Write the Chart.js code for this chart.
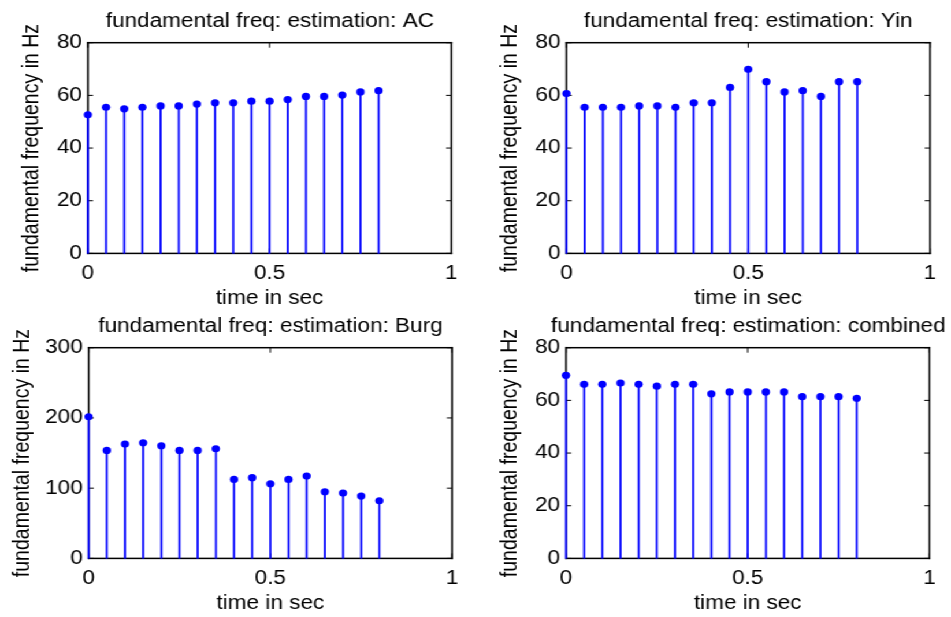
<!DOCTYPE html>
<html>
<head>
<meta charset="utf-8">
<script src="https://cdn.jsdelivr.net/npm/chart.js@4.4.1/dist/chart.umd.min.js"></script>
<style>
html,body{margin:0;padding:0;background:#fff;overflow:hidden;width:951px;height:617px;}
#stage{position:absolute;left:0;top:0;width:823px;height:617px;transform:scaleX(1.155529);transform-origin:0 0;}
#stage canvas{position:absolute;}
</style>
</head>
<body>
<div id="stage"></div>
<script>
// ---- data ----
const times = [0, 0.05, 0.1, 0.15, 0.2, 0.25, 0.3, 0.35, 0.4, 0.45, 0.5, 0.55, 0.6, 0.65, 0.7, 0.75, 0.8];
const acValues = [52.6, 55.5, 54.9, 55.5, 56.0, 56.0, 56.7, 57.2, 57.2, 57.8, 57.8, 58.4, 59.6, 59.6, 60.1, 61.3, 61.8];
const yinValues = [60.7, 55.5, 55.5, 55.5, 56.0, 56.0, 55.5, 57.2, 57.2, 63.0, 69.9, 65.2, 61.3, 61.8, 59.6, 65.2, 65.2];
const burgValues = [201.7, 153.8, 162.8, 164.7, 160.4, 153.8, 153.8, 156.1, 112.5, 114.9, 106.3, 112.5, 117.2, 94.9, 93.0, 88.8, 82.1];
const combinedValues = [69.5, 66.1, 66.1, 66.6, 66.1, 65.4, 66.1, 66.1, 62.5, 63.2, 63.2, 63.2, 63.2, 61.4, 61.4, 61.4, 60.8];
const xTicks = [0, 0.5, 1];
const yTicksSmall = [0, 20, 40, 60, 80];
const yTicksBurg = [0, 100, 200, 300];
const titleAC = 'fundamental freq: estimation: AC';
const titleYin = 'fundamental freq: estimation: Yin';
const titleBurg = 'fundamental freq: estimation: Burg';
const titleCombined = 'fundamental freq: estimation: combined';
const xLabel = 'time in sec';
const yLabel = 'fundamental frequency in Hz';

// ---- layout ----
const S = 951 / 823;
const BLUE = '#0000ff';
const FONT = { family: "'Liberation Sans', Arial, sans-serif", size: 19.5, lineHeight: 1.2 };
const HALF = 19.5 * 1.2 / 2;
const CANVAS_H = 310;
const TITLE_PAD_TOP = 9.7, TITLE_PAD_BOTTOM = 9.6;
const PLOT_H = 210.7;
const XH = CANVAS_H - (TITLE_PAD_TOP + 2 * HALF + TITLE_PAD_BOTTOM) - PLOT_H;

// MATLAB-style box with inward ticks, placed through the chart's own scales
const framePlugin = {
  id: 'matlabFrame',
  beforeDatasetsDraw(chart) {
    const ctx = chart.ctx;
    const a = chart.chartArea;
    const x = chart.scales.x, y = chart.scales.y;
    ctx.save();
    ctx.fillStyle = '#000';
    const bw = 1.5;
    ctx.fillRect(a.left - bw / 2, a.top - bw / 2, a.right - a.left + bw, bw);
    ctx.fillRect(a.left - bw / 2, a.bottom - bw / 2, a.right - a.left + bw, bw);
    ctx.fillRect(a.left - bw / 2, a.top - bw / 2, bw, a.bottom - a.top + bw);
    ctx.fillRect(a.right - bw / 2, a.top - bw / 2, bw, a.bottom - a.top + bw);
    x.ticks.forEach(t => {
      const px = x.getPixelForValue(t.value);
      ctx.fillRect(px - 0.5, a.bottom - 5, 1, 5);
      ctx.fillRect(px - 0.5, a.top, 1, 5);
    });
    y.ticks.forEach(t => {
      const py = y.getPixelForValue(t.value);
      ctx.fillRect(a.left, py - 0.5, 4.5, 1);
      ctx.fillRect(a.right - 4.5, py - 0.5, 4.5, 1);
    });
    ctx.restore();
  }
};

const stage = document.getElementById('stage');

function makePanel(cfg) {
  const Lu = cfg.left / S, Ru = cfg.right / S;
  const canvasLeft = cfg.yTitleX / S - HALF;
  const YW = Lu - canvasLeft;
  const plotW = Ru - Lu;
  const canvasW = Math.ceil(YW + plotW + YW);
  const YW2 = canvasW - YW - plotW;

  const c = document.createElement('canvas');
  c.width = canvasW; c.height = CANVAS_H;
  c.style.left = canvasLeft + 'px';
  c.style.top = cfg.top + 'px';
  c.style.width = canvasW + 'px';
  c.style.height = CANVAS_H + 'px';
  stage.appendChild(c);

  const pts = times.map((t, i) => ({ x: t, y: cfg.values[i] }));
  const noGrid = { display: false, drawTicks: false, offset: false };

  new Chart(c, {
    type: 'bar',
    data: {
      datasets: [
        { type: 'line', data: pts, showLine: false, pointRadius: 3.6, pointHoverRadius: 3.6,
          pointBackgroundColor: BLUE, pointBorderColor: BLUE, pointBorderWidth: 0, borderColor: BLUE, clip: false },
        { type: 'bar', data: pts, backgroundColor: BLUE, borderWidth: 0, barThickness: 1.1, clip: false }
      ]
    },
    plugins: [framePlugin],
    options: {
      responsive: false, animation: false, devicePixelRatio: 1,
      layout: { padding: 0 },
      events: [],
      plugins: {
        legend: { display: false },
        tooltip: { enabled: false },
        title: { display: true, text: cfg.title, color: '#000', font: Object.assign({ weight: 'normal' }, FONT),
                 padding: { top: TITLE_PAD_TOP, bottom: TITLE_PAD_BOTTOM } }
      },
      scales: {
        x: {
          type: 'linear', position: 'bottom', min: 0, max: 1, offset: false,
          afterBuildTicks: s => { s.ticks = xTicks.map(v => ({ value: v })); },
          afterFit: s => { s.height = XH; },
          grid: noGrid, border: { display: false },
          ticks: { padding: 8.3, color: '#000', font: FONT, maxRotation: 0, autoSkip: false, callback: v => String(v) },
          title: { display: true, text: xLabel, color: '#000', font: FONT, padding: 0 }
        },
        x2: {
          type: 'linear', position: 'top', min: 0, max: 1, offset: false,
          afterFit: s => { s.height = 0; },
          grid: noGrid, border: { display: false },
          ticks: { display: false }
        },
        y: {
          type: 'linear', position: 'left', min: 0, max: cfg.ymax,
          afterBuildTicks: s => { s.ticks = cfg.yTicks.map(v => ({ value: v })); },
          afterFit: s => { s.width = YW; },
          grid: noGrid, border: { display: false },
          ticks: { padding: 5.1, color: '#000', font: FONT, callback: v => String(v) },
          title: { display: true, text: yLabel, color: '#000', font: FONT, padding: 0 }
        },
        y2: {
          type: 'linear', position: 'right', min: 0, max: cfg.ymax,
          afterFit: s => { s.width = YW2; },
          grid: noGrid, border: { display: false },
          ticks: { display: false }
        }
      }
    }
  });
}

makePanel({ title: titleAC, values: acValues, ymax: 80, yTicks: yTicksSmall, left: 88.3, right: 451.7, yTitleX: 32.5, top: 0 });
makePanel({ title: titleYin, values: yinValues, ymax: 80, yTicks: yTicksSmall, left: 566, right: 929.5, yTitleX: 510, top: 0 });
makePanel({ title: titleBurg, values: burgValues, ymax: 300, yTicks: yTicksBurg, left: 88.3, right: 451.7, yTitleX: 22.5, top: 304.8 });
makePanel({ title: titleCombined, values: combinedValues, ymax: 80, yTicks: yTicksSmall, left: 566, right: 929.5, yTitleX: 510.5, top: 304.8 });
</script>
</body>
</html>
